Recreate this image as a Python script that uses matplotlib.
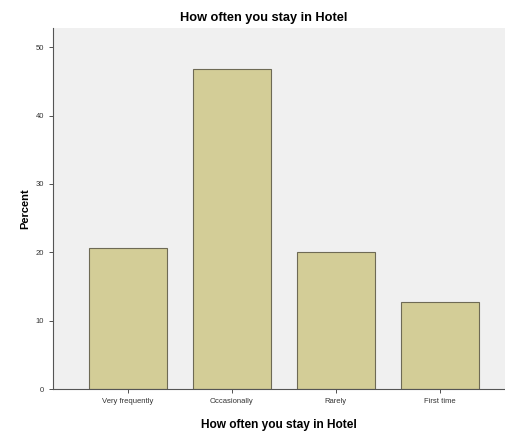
import matplotlib
matplotlib.use("Agg")
import matplotlib.pyplot as plt

plt.rcParams['font.family'] = ['Liberation Sans', 'DejaVu Sans']

# data
categories = ["Very frequently", "Occasionally", "Rarely", "First time"]
percent = [20.7, 46.8, 20.0, 12.7]

fig = plt.figure(figsize=(5.05, 4.32), dpi=100)
ax = fig.add_axes([0.105, 0.0995, 0.895, 0.8355])
ax.set_facecolor("#f0f0f0")

x = range(len(categories))
ax.bar(x, percent, width=0.75, color="#d3cd97", edgecolor="#6e6a55", linewidth=0.8)

ax.set_xlim(-0.72, 3.63)
ax.set_ylim(0, 52.8)
ax.set_yticks([0, 10, 20, 30, 40, 50])
ax.set_xticks(list(x))
ax.set_xticklabels(categories)
ax.tick_params(labelsize=5.5, colors="#333333", length=3, width=0.6)

for s in ["top", "right"]:
    ax.spines[s].set_visible(False)
for s in ["left", "bottom"]:
    ax.spines[s].set_color("#555555")
    ax.spines[s].set_linewidth(0.8)

ax.set_title("How often you stay in Hotel", fontsize=9.2, fontweight="bold", pad=5, x=0.465)
ax.set_xlabel("How often you stay in Hotel", fontsize=8.6, fontweight="bold", labelpad=10)
ax.set_ylabel("Percent", fontsize=8, fontweight="bold", labelpad=4)

fig.savefig("out.png", dpi=100)
